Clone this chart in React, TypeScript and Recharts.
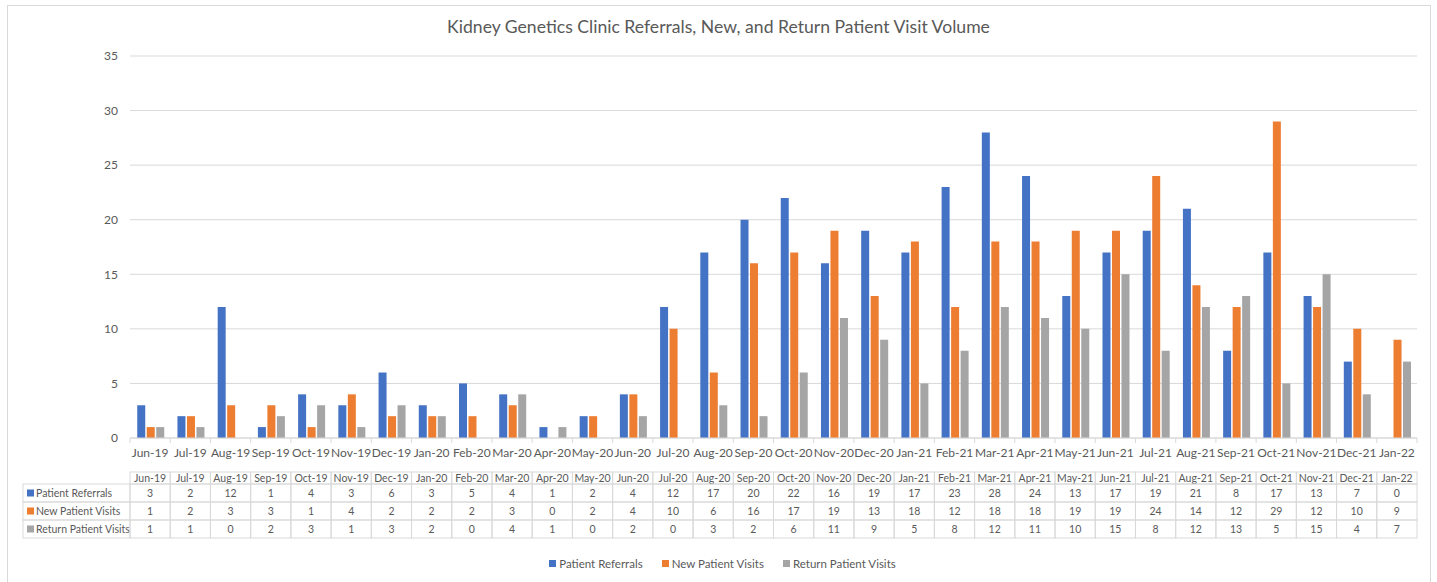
import React from 'react';
import { BarChart, Bar, XAxis, YAxis, CartesianGrid, Legend } from 'recharts';

const months = ['Jun-19','Jul-19','Aug-19','Sep-19','Oct-19','Nov-19','Dec-19','Jan-20','Feb-20','Mar-20','Apr-20','May-20','Jun-20','Jul-20','Aug-20','Sep-20','Oct-20','Nov-20','Dec-20','Jan-21','Feb-21','Mar-21','Apr-21','May-21','Jun-21','Jul-21','Aug-21','Sep-21','Oct-21','Nov-21','Dec-21','Jan-22'];
const patientReferrals = [3,2,12,1,4,3,6,3,5,4,1,2,4,12,17,20,22,16,19,17,23,28,24,13,17,19,21,8,17,13,7,0];
const newPatientVisits = [1,2,3,3,1,4,2,2,2,3,0,2,4,10,6,16,17,19,13,18,12,18,18,19,19,24,14,12,29,12,10,9];
const returnPatientVisits = [1,1,0,2,3,1,3,2,0,4,1,0,2,0,3,2,6,11,9,5,8,12,11,10,15,8,12,13,5,15,4,7];
const seriesNames = ['Patient Referrals','New Patient Visits','Return Patient Visits'];
const seriesKeys = ['referrals','newVisits','returnVisits'];
const seriesColors = ['#4472C4','#ED7D31','#A5A5A5'];
const yTicks = [0,5,10,15,20,25,30,35];
const title = 'Kidney Genetics Clinic Referrals, New, and Return Patient Visit Volume';

const data = months.map((m, i) => ({
  month: m,
  referrals: patientReferrals[i],
  newVisits: newPatientVisits[i],
  returnVisits: returnPatientVisits[i],
}));
const seriesValues = [patientReferrals, newPatientVisits, returnPatientVisits];

const W = 1437;
const H = 582;
const ML = 70;
const YW = 60;
const MR = 20;
const BW = (W - ML - YW - MR) / months.length;
const FONT = 'Lato, "Open Sans", sans-serif';
const GRID = '#d9d9d9';
const TXT = '#595959';
const LABEL_W = 107;

const MainTick = (props: any) => {
  const { x, y, payload, index } = props;
  return (
    <g>
      <line x1={x - BW / 2} x2={x - BW / 2} y1={y} y2={y + 5} stroke={GRID} />
      {index === months.length - 1 && (
        <line x1={x + BW / 2} x2={x + BW / 2} y1={y} y2={y + 5} stroke={GRID} />
      )}
      <text x={x} y={y + 19} textAnchor="middle" fill={TXT} fontSize={12} fontFamily={FONT}>
        {payload.value}
      </text>
    </g>
  );
};

const HeaderTick = (props: any) => {
  const { x, y, payload } = props;
  return (
    <g>
      <rect x={x - BW / 2} y={y} width={BW} height={12} fill="none" stroke={GRID} />
      <text x={x} y={y + 9.5} textAnchor="middle" fill={TXT} fontSize={10.5} fontFamily={FONT}>
        {payload.value}
      </text>
    </g>
  );
};

const makeRowTick = (row: number) => (props: any) => {
  const { x, y, index } = props;
  const v = seriesValues[row][index];
  return (
    <g>
      {index === 0 && (
        <g>
          <rect x={x - BW / 2 - LABEL_W} y={y} width={LABEL_W} height={18} fill="none" stroke={GRID} />
          <rect x={x - BW / 2 - LABEL_W + 4} y={y + 5.5} width={7} height={7} fill={seriesColors[row]} />
          <text x={x - BW / 2 - LABEL_W + 13} y={y + 13} textAnchor="start" fill={TXT} fontSize={10.5} fontFamily={FONT}>
            {seriesNames[row]}
          </text>
        </g>
      )}
      <rect x={x - BW / 2} y={y} width={BW} height={18} fill="none" stroke={GRID} />
      <text x={x} y={y + 13} textAnchor="middle" fill={TXT} fontSize={10.5} fontFamily={FONT}>
        {v}
      </text>
    </g>
  );
};

const LegendContent = () => (
  <div style={{ display: 'flex', justifyContent: 'center', fontFamily: FONT, fontSize: 11.5, color: TXT, paddingLeft: 8 }}>
    {seriesNames.map((n, i) => (
      <div key={n} style={{ display: 'flex', alignItems: 'center', marginRight: i < 2 ? 19 : 0 }}>
        <span style={{ width: 7, height: 7, background: seriesColors[i], display: 'inline-block', marginRight: 3 }} />
        <span>{n}</span>
      </div>
    ))}
  </div>
);

export default function App() {
  return (
    <div style={{ position: 'absolute', left: 0, top: 0, width: W, height: H, overflow: 'hidden', background: '#fff' }}>
      <div style={{ position: 'absolute', left: 7, top: 5, width: 1424, height: 600, border: `1px solid ${GRID}`, boxSizing: 'border-box' }} />
      <div style={{ position: 'absolute', left: 0, top: 16, width: W, textAlign: 'center', fontFamily: FONT, fontSize: 17.6, color: TXT }}>
        {title}
      </div>
      <div style={{ position: 'absolute', left: 0, top: 0 }}>
        <BarChart width={W} height={H} data={data} margin={{ top: 56, right: MR, left: ML, bottom: 31 }} barCategoryGap="18%" barGap={1.5}>
          <CartesianGrid vertical={false} stroke={GRID} />
          <YAxis domain={[0, 35]} ticks={yTicks} width={YW} axisLine={false} tickLine={false} tickSize={0} tickMargin={12}
            tick={{ fill: TXT, fontSize: 12, fontFamily: FONT }} />
          <XAxis xAxisId="a_main" dataKey="month" height={34} axisLine={{ stroke: GRID }} tickLine={false} tickSize={0} tickMargin={0} tick={<MainTick />} interval={0} />
          <XAxis xAxisId="b_hdr" dataKey="month" height={12} axisLine={false} tickLine={false} tickSize={0} tickMargin={0} tick={<HeaderTick />} interval={0} />
          <XAxis xAxisId="c_r0" dataKey="month" height={18} axisLine={false} tickLine={false} tickSize={0} tickMargin={0} tick={makeRowTick(0)} interval={0} />
          <XAxis xAxisId="d_r1" dataKey="month" height={18} axisLine={false} tickLine={false} tickSize={0} tickMargin={0} tick={makeRowTick(1)} interval={0} />
          <XAxis xAxisId="e_r2" dataKey="month" height={18} axisLine={false} tickLine={false} tickSize={0} tickMargin={0} tick={makeRowTick(2)} interval={0} />
          {seriesKeys.map((k, i) => (
            <Bar key={k} xAxisId="a_main" dataKey={k} name={seriesNames[i]} fill={seriesColors[i]} isAnimationActive={false} />
          ))}
          <Legend content={<LegendContent />} wrapperStyle={{ left: 0, width: W, top: 557 }} />
        </BarChart>
      </div>
    </div>
  );
}
